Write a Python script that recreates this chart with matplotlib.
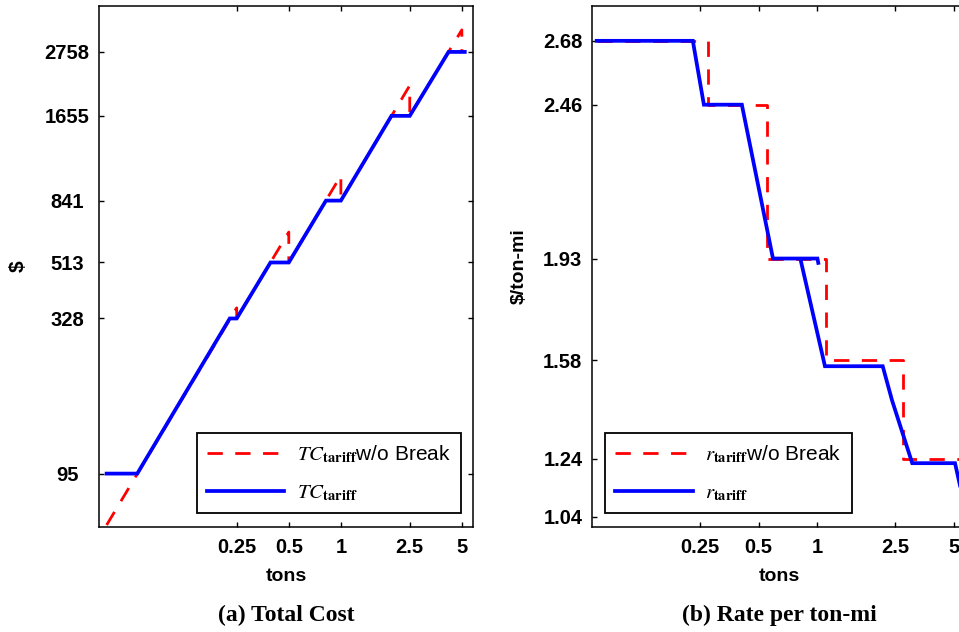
import numpy as np
import matplotlib
matplotlib.use('Agg')
import matplotlib.pyplot as plt
from matplotlib.ticker import NullLocator, FixedLocator, FixedFormatter

plt.rcParams['font.family'] = ['Liberation Sans', 'DejaVu Sans']
plt.rcParams['mathtext.fontset'] = 'stix'

# x tick positions (tons) shared by both panels
tons_ticks = [0.25, 0.5, 1, 2.5, 5]
tons_labels = ['0.25', '0.5', '1', '2.5', '5']

# (a) total cost, $ -- polyline vertices
tc_nobreak_x = [0.0443, 0.25, 0.25, 0.5, 0.5, 1.0, 1.0, 2.5, 2.5, 5.0, 5.0]
tc_nobreak_y = [63, 357, 328, 654, 513, 1027, 841, 2109, 1655, 3288, 2758]
tc_tariff_x = [0.0443, 0.0666, 0.228, 0.25, 0.392, 0.5, 0.82, 1.0, 1.96, 2.5, 4.19, 5.2]
tc_tariff_y = [95, 95, 328, 328, 513, 513, 841, 841, 1655, 1655, 2758, 2758]
tc_ticks = [95, 328, 513, 841, 1655, 2758]

# (b) rate per ton-mi, $/ton-mi
r_nobreak_x = [0.074, 0.275, 0.275, 0.551, 0.551, 1.105, 1.105, 2.75, 2.75, 5.8]
r_nobreak_y = [2.68, 2.68, 2.46, 2.46, 1.93, 1.93, 1.58, 1.58, 1.24, 1.24]
r_tariff_x = [0.074, 0.230, 0.262, 0.410, 0.592, 1.0, 1.01, np.nan,
              0.823, 1.093, 2.16, 2.41, 3.06, 5.07, 5.45]
r_tariff_y = [2.68, 2.68, 2.46, 2.46, 1.93, 1.93, 1.915, np.nan,
              1.921, 1.559, 1.559, 1.442, 1.225, 1.225, 1.13]
r_ticks = [1.04, 1.24, 1.58, 1.93, 2.46, 2.68]

red_style = dict(color='#ff0000', lw=2.0, linestyle=(0, (5.5, 4.5)))
blue_style = dict(color='#0000ff', lw=2.7, solid_joinstyle='miter')
leg_opts = dict(fontsize=15, handlelength=3.7, handletextpad=0.6, borderpad=0.5,
                labelspacing=0.85, borderaxespad=0, fancybox=False,
                edgecolor='black', framealpha=1)

fig = plt.figure(figsize=(9.59, 6.32), dpi=100)
ax1 = fig.add_axes([0.1032, 0.1661, 0.390, 0.8244])
ax2 = fig.add_axes([0.6173, 0.1661, 0.390, 0.8244])


def style_axes(ax, ypad):
    for sp in ax.spines.values():
        sp.set_linewidth(1.1)
    ax.set_xscale('log')
    ax.xaxis.set_major_locator(FixedLocator(tons_ticks))
    ax.xaxis.set_major_formatter(FixedFormatter(tons_labels))
    ax.xaxis.set_minor_locator(NullLocator())
    ax.tick_params(axis='both', which='major', direction='in', top=True, right=True,
                   length=3.6, width=1.0, labelsize=14.5)
    ax.tick_params(axis='x', pad=8)
    ax.tick_params(axis='y', pad=ypad)
    for lbl in ax.get_xticklabels() + ax.get_yticklabels():
        lbl.set_fontweight('bold')
    for lbl in ax.get_yticklabels():
        lbl.set_horizontalalignment('center')
    ax.set_xlabel('tons', fontsize=14, fontweight='bold', labelpad=8)


# ---- (a) Total Cost
ax1.plot(tc_nobreak_x, tc_nobreak_y, label=r'$\mathit{TC}_{\mathbf{tariff}}$w/o Break', **red_style)
ax1.plot(tc_tariff_x, tc_tariff_y, label=r'$\mathit{TC}_{\mathbf{tariff}}$', **blue_style)
ax1.set_yscale('log')
ax1.yaxis.set_major_locator(FixedLocator(tc_ticks))
ax1.yaxis.set_major_formatter(FixedFormatter([str(v) for v in tc_ticks]))
ax1.yaxis.set_minor_locator(NullLocator())
ax1.set_xlim(0.04, 5.8)
ax1.set_ylim(62, 3980)
style_axes(ax1, 23)
ax1.set_ylabel('$', fontsize=15, fontweight='bold')
ax1.yaxis.set_label_coords(-0.19, 0.5)
leg1 = ax1.legend(loc='lower right', bbox_to_anchor=(0.968, 0.027), **leg_opts)
leg1.get_frame().set_linewidth(1.3)
ax1.text(0.5, -0.169, '(a) Total Cost', transform=ax1.transAxes, ha='center', va='center',
         fontsize=17, fontweight='bold', family='Liberation Serif')

# ---- (b) Rate per ton-mi
ax2.plot(r_nobreak_x, r_nobreak_y, label=r'$r_{\mathbf{tariff}}$w/o Break', **red_style)
ax2.plot(r_tariff_x, r_tariff_y, label=r'$r_{\mathbf{tariff}}$', **blue_style)
ax2.yaxis.set_major_locator(FixedLocator(r_ticks))
ax2.yaxis.set_major_formatter(FixedFormatter(['%.2f' % v for v in r_ticks]))
ax2.set_xlim(0.07, 5.77)
ax2.set_ylim(1.005, 2.80)
style_axes(ax2, 21)
ax2.set_ylabel('$/ton-mi', fontsize=14, fontweight='bold')
ax2.yaxis.set_label_coords(-0.171, 0.5)
leg2 = ax2.legend(loc='lower left', bbox_to_anchor=(0.035, 0.027), **leg_opts)
leg2.get_frame().set_linewidth(1.3)
ax2.text(0.5, -0.169, '(b) Rate per ton-mi', transform=ax2.transAxes, ha='center', va='center',
         fontsize=17, fontweight='bold', family='Liberation Serif')

fig.savefig('out.png', dpi=100)
